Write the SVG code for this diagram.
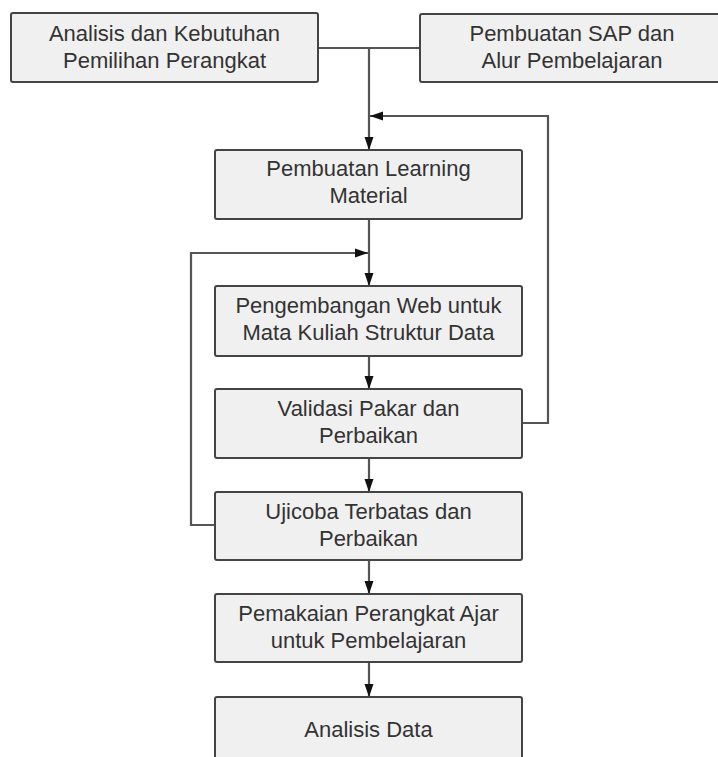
<svg xmlns="http://www.w3.org/2000/svg" width="718" height="757" viewBox="0 0 718 757">
<style>
.box{fill:#f0f0f0;stroke:#444;stroke-width:2}
.t{font-family:"Liberation Sans",Arial,sans-serif;font-size:22px;fill:#333;text-anchor:middle}
.c{fill:none;stroke:#555;stroke-width:2.2}
</style>
<defs>
<marker id="ah" markerUnits="userSpaceOnUse" markerWidth="13" markerHeight="10" refX="13" refY="5" orient="auto">
<path d="M0,0.5 L13,5 L0,9.5 Z" fill="#111"/>
</marker>
</defs>
<rect width="718" height="757" fill="#fff"/>
<g id="connectors">
<path class="c" d="M318,48 H420"/>
<path class="c" d="M369,48 V150" marker-end="url(#ah)"/>
<path class="c" d="M522,423 H548 V116 H370" marker-end="url(#ah)"/>
<path class="c" d="M369,219 V286" marker-end="url(#ah)"/>
<path class="c" d="M215,525 H191 V253 H368" marker-end="url(#ah)"/>
<path class="c" d="M369,356 V389" marker-end="url(#ah)"/>
<path class="c" d="M369,458 V492" marker-end="url(#ah)"/>
<path class="c" d="M369,560 V594" marker-end="url(#ah)"/>
<path class="c" d="M369,662 V697" marker-end="url(#ah)"/>
</g>
<g id="n1"><rect class="box" x="11" y="13" width="307" height="69" rx="2"/>
<text class="t" x="164.5" y="41">Analisis dan Kebutuhan</text><text class="t" x="164.5" y="68">Pemilihan Perangkat</text></g>
<g id="n2"><rect class="box" x="420" y="14" width="302" height="68" rx="2"/>
<text class="t" x="572" y="41">Pembuatan SAP dan</text><text class="t" x="572" y="68">Alur Pembelajaran</text></g>
<g id="n3"><rect class="box" x="215" y="150" width="307" height="69" rx="2"/>
<text class="t" x="368.5" y="176">Pembuatan Learning</text><text class="t" x="368.5" y="203">Material</text></g>
<g id="n4"><rect class="box" x="215" y="286" width="307" height="70" rx="2"/>
<text class="t" x="368.5" y="313">Pengembangan Web untuk</text><text class="t" x="368.5" y="340">Mata Kuliah Struktur Data</text></g>
<g id="n5"><rect class="box" x="215" y="389" width="307" height="69" rx="2"/>
<text class="t" x="368.5" y="416">Validasi Pakar dan</text><text class="t" x="368.5" y="443">Perbaikan</text></g>
<g id="n6"><rect class="box" x="215" y="492" width="307" height="68" rx="2"/>
<text class="t" x="368.5" y="519">Ujicoba Terbatas dan</text><text class="t" x="368.5" y="546">Perbaikan</text></g>
<g id="n7"><rect class="box" x="215" y="594" width="307" height="68" rx="2"/>
<text class="t" x="368.5" y="621">Pemakaian Perangkat Ajar</text><text class="t" x="368.5" y="648">untuk Pembelajaran</text></g>
<g id="n8"><rect class="box" x="215" y="697" width="307" height="69" rx="2"/>
<text class="t" x="368.5" y="737">Analisis Data</text></g>
</svg>
